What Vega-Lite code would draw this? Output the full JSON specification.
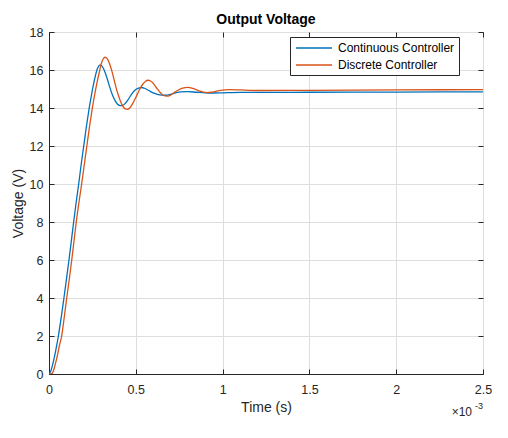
{
  "$schema": "https://vega.github.io/schema/vega-lite/v6.json",
  "autosize": "none",
  "width": 434,
  "height": 342,
  "padding": {"left": 49, "top": 32, "right": 25, "bottom": 64},
  "background": "white",
  "title": {
    "text": "Output Voltage",
    "font": "Liberation Sans",
    "fontSize": 14,
    "fontWeight": "bold",
    "color": "#000000",
    "offset": -1
  },
  "config": {
    "view": {"stroke": "#262626", "strokeWidth": 1},
    "axis": {
      "labelFont": "Liberation Sans",
      "labelFontSize": 12.5,
      "labelColor": "#262626",
      "titleFont": "Liberation Sans",
      "titleFontSize": 14,
      "titleFontWeight": "normal",
      "titleColor": "#262626",
      "domainColor": "#262626",
      "tickColor": "#262626",
      "gridColor": "#dedede",
      "tickSize": -5
    },
    "legend": {
      "orient": "none",
      "legendX": 241,
      "legendY": 5,
      "padding": 4,
      "strokeColor": "#262626",
      "fillColor": "white",
      "labelFont": "Liberation Sans",
      "labelFontSize": 12,
      "labelColor": "#000000",
      "symbolType": "M-3,0H3",
      "symbolSize": 144,
      "symbolStrokeWidth": 1.5,
      "symbolOffset": 13,
      "rowPadding": 4,
      "labelOffset": 17,
      "cornerRadius": 0
    }
  },
  "data": {
    "values": [
      {"t": 0, "v": 0, "s": "Continuous Controller"},
      {"t": 0.01, "v": 0.15, "s": "Continuous Controller"},
      {"t": 0.02, "v": 0.45, "s": "Continuous Controller"},
      {"t": 0.03, "v": 0.85, "s": "Continuous Controller"},
      {"t": 0.04, "v": 1.3, "s": "Continuous Controller"},
      {"t": 0.054, "v": 2.0, "s": "Continuous Controller"},
      {"t": 0.07, "v": 2.95, "s": "Continuous Controller"},
      {"t": 0.086, "v": 4.0, "s": "Continuous Controller"},
      {"t": 0.1, "v": 4.95, "s": "Continuous Controller"},
      {"t": 0.115, "v": 6.0, "s": "Continuous Controller"},
      {"t": 0.128, "v": 6.95, "s": "Continuous Controller"},
      {"t": 0.142, "v": 8.0, "s": "Continuous Controller"},
      {"t": 0.156, "v": 9.0, "s": "Continuous Controller"},
      {"t": 0.171, "v": 10.0, "s": "Continuous Controller"},
      {"t": 0.185, "v": 11.0, "s": "Continuous Controller"},
      {"t": 0.2, "v": 12.0, "s": "Continuous Controller"},
      {"t": 0.215, "v": 13.0, "s": "Continuous Controller"},
      {"t": 0.23, "v": 13.9, "s": "Continuous Controller"},
      {"t": 0.245, "v": 14.7, "s": "Continuous Controller"},
      {"t": 0.26, "v": 15.4, "s": "Continuous Controller"},
      {"t": 0.27, "v": 15.8, "s": "Continuous Controller"},
      {"t": 0.28, "v": 16.1, "s": "Continuous Controller"},
      {"t": 0.294, "v": 16.27, "s": "Continuous Controller"},
      {"t": 0.305, "v": 16.2, "s": "Continuous Controller"},
      {"t": 0.32, "v": 15.95, "s": "Continuous Controller"},
      {"t": 0.335, "v": 15.55, "s": "Continuous Controller"},
      {"t": 0.35, "v": 15.1, "s": "Continuous Controller"},
      {"t": 0.365, "v": 14.7, "s": "Continuous Controller"},
      {"t": 0.38, "v": 14.4, "s": "Continuous Controller"},
      {"t": 0.395, "v": 14.2, "s": "Continuous Controller"},
      {"t": 0.41, "v": 14.13, "s": "Continuous Controller"},
      {"t": 0.425, "v": 14.14, "s": "Continuous Controller"},
      {"t": 0.44, "v": 14.25, "s": "Continuous Controller"},
      {"t": 0.46, "v": 14.5, "s": "Continuous Controller"},
      {"t": 0.48, "v": 14.78, "s": "Continuous Controller"},
      {"t": 0.5, "v": 14.97, "s": "Continuous Controller"},
      {"t": 0.52, "v": 15.06, "s": "Continuous Controller"},
      {"t": 0.535, "v": 15.08, "s": "Continuous Controller"},
      {"t": 0.55, "v": 15.04, "s": "Continuous Controller"},
      {"t": 0.575, "v": 14.92, "s": "Continuous Controller"},
      {"t": 0.6, "v": 14.8, "s": "Continuous Controller"},
      {"t": 0.625, "v": 14.72, "s": "Continuous Controller"},
      {"t": 0.65, "v": 14.68, "s": "Continuous Controller"},
      {"t": 0.67, "v": 14.67, "s": "Continuous Controller"},
      {"t": 0.7, "v": 14.72, "s": "Continuous Controller"},
      {"t": 0.73, "v": 14.8, "s": "Continuous Controller"},
      {"t": 0.76, "v": 14.85, "s": "Continuous Controller"},
      {"t": 0.8, "v": 14.86, "s": "Continuous Controller"},
      {"t": 0.85, "v": 14.83, "s": "Continuous Controller"},
      {"t": 0.9, "v": 14.8, "s": "Continuous Controller"},
      {"t": 0.95, "v": 14.79, "s": "Continuous Controller"},
      {"t": 1.0, "v": 14.8, "s": "Continuous Controller"},
      {"t": 1.1, "v": 14.82, "s": "Continuous Controller"},
      {"t": 1.2, "v": 14.82, "s": "Continuous Controller"},
      {"t": 1.5, "v": 14.83, "s": "Continuous Controller"},
      {"t": 2.0, "v": 14.84, "s": "Continuous Controller"},
      {"t": 2.5, "v": 14.85, "s": "Continuous Controller"},
      {"t": 0, "v": 0, "s": "Discrete Controller"},
      {"t": 0.01, "v": 0.0, "s": "Discrete Controller"},
      {"t": 0.02, "v": 0.05, "s": "Discrete Controller"},
      {"t": 0.03, "v": 0.3, "s": "Discrete Controller"},
      {"t": 0.04, "v": 0.65, "s": "Discrete Controller"},
      {"t": 0.05, "v": 1.05, "s": "Discrete Controller"},
      {"t": 0.06, "v": 1.5, "s": "Discrete Controller"},
      {"t": 0.073, "v": 2.0, "s": "Discrete Controller"},
      {"t": 0.088, "v": 3.0, "s": "Discrete Controller"},
      {"t": 0.102, "v": 4.0, "s": "Discrete Controller"},
      {"t": 0.117, "v": 5.0, "s": "Discrete Controller"},
      {"t": 0.131, "v": 6.0, "s": "Discrete Controller"},
      {"t": 0.144, "v": 7.0, "s": "Discrete Controller"},
      {"t": 0.157, "v": 8.0, "s": "Discrete Controller"},
      {"t": 0.172, "v": 9.0, "s": "Discrete Controller"},
      {"t": 0.188, "v": 10.0, "s": "Discrete Controller"},
      {"t": 0.203, "v": 11.0, "s": "Discrete Controller"},
      {"t": 0.218, "v": 12.0, "s": "Discrete Controller"},
      {"t": 0.233, "v": 13.0, "s": "Discrete Controller"},
      {"t": 0.248, "v": 13.9, "s": "Discrete Controller"},
      {"t": 0.263, "v": 14.7, "s": "Discrete Controller"},
      {"t": 0.278, "v": 15.4, "s": "Discrete Controller"},
      {"t": 0.29, "v": 15.9, "s": "Discrete Controller"},
      {"t": 0.3, "v": 16.3, "s": "Discrete Controller"},
      {"t": 0.312, "v": 16.58, "s": "Discrete Controller"},
      {"t": 0.323, "v": 16.67, "s": "Discrete Controller"},
      {"t": 0.335, "v": 16.6, "s": "Discrete Controller"},
      {"t": 0.35, "v": 16.3, "s": "Discrete Controller"},
      {"t": 0.365, "v": 15.85, "s": "Discrete Controller"},
      {"t": 0.38, "v": 15.3, "s": "Discrete Controller"},
      {"t": 0.395, "v": 14.8, "s": "Discrete Controller"},
      {"t": 0.41, "v": 14.4, "s": "Discrete Controller"},
      {"t": 0.425, "v": 14.1, "s": "Discrete Controller"},
      {"t": 0.44, "v": 13.95, "s": "Discrete Controller"},
      {"t": 0.452, "v": 13.93, "s": "Discrete Controller"},
      {"t": 0.465, "v": 14.0, "s": "Discrete Controller"},
      {"t": 0.48, "v": 14.2, "s": "Discrete Controller"},
      {"t": 0.5, "v": 14.55, "s": "Discrete Controller"},
      {"t": 0.52, "v": 14.95, "s": "Discrete Controller"},
      {"t": 0.54, "v": 15.25, "s": "Discrete Controller"},
      {"t": 0.555, "v": 15.4, "s": "Discrete Controller"},
      {"t": 0.571, "v": 15.46, "s": "Discrete Controller"},
      {"t": 0.585, "v": 15.42, "s": "Discrete Controller"},
      {"t": 0.6, "v": 15.3, "s": "Discrete Controller"},
      {"t": 0.62, "v": 15.05, "s": "Discrete Controller"},
      {"t": 0.64, "v": 14.82, "s": "Discrete Controller"},
      {"t": 0.66, "v": 14.66, "s": "Discrete Controller"},
      {"t": 0.678, "v": 14.62, "s": "Discrete Controller"},
      {"t": 0.695, "v": 14.65, "s": "Discrete Controller"},
      {"t": 0.72, "v": 14.8, "s": "Discrete Controller"},
      {"t": 0.745, "v": 14.95, "s": "Discrete Controller"},
      {"t": 0.77, "v": 15.05, "s": "Discrete Controller"},
      {"t": 0.8, "v": 15.09, "s": "Discrete Controller"},
      {"t": 0.83, "v": 15.03, "s": "Discrete Controller"},
      {"t": 0.86, "v": 14.92, "s": "Discrete Controller"},
      {"t": 0.89, "v": 14.83, "s": "Discrete Controller"},
      {"t": 0.91, "v": 14.81, "s": "Discrete Controller"},
      {"t": 0.94, "v": 14.84, "s": "Discrete Controller"},
      {"t": 0.98, "v": 14.92, "s": "Discrete Controller"},
      {"t": 1.04, "v": 14.97, "s": "Discrete Controller"},
      {"t": 1.1, "v": 14.95, "s": "Discrete Controller"},
      {"t": 1.2, "v": 14.92, "s": "Discrete Controller"},
      {"t": 1.5, "v": 14.93, "s": "Discrete Controller"},
      {"t": 2.0, "v": 14.95, "s": "Discrete Controller"},
      {"t": 2.5, "v": 14.97, "s": "Discrete Controller"}
    ]
  },
  "layer": [
    {
      "mark": {"type": "line", "strokeWidth": 1.3, "interpolate": "monotone", "clip": true},
      "encoding": {
        "x": {
          "field": "t",
          "type": "quantitative",
          "scale": {"domain": [0, 2.5], "nice": false},
          "axis": {
            "orient": "bottom",
            "title": "Time (s)",
            "values": [0, 0.5, 1, 1.5, 2, 2.5],
            "format": "~g",
            "labelPadding": 14,
            "titlePadding": 5,
            "grid": true,
            "labelFlush": false
          }
        },
        "y": {
          "field": "v",
          "type": "quantitative",
          "scale": {"domain": [0, 18], "nice": false, "zero": false},
          "axis": {
            "orient": "left",
            "title": "Voltage (V)",
            "values": [0, 2, 4, 6, 8, 10, 12, 14, 16, 18],
            "format": "~g",
            "labelPadding": 11,
            "titlePadding": 4,
            "grid": true,
            "labelFlush": false
          }
        },
        "color": {
          "field": "s",
          "type": "nominal",
          "title": null,
          "scale": {
            "domain": ["Continuous Controller", "Discrete Controller"],
            "range": ["#0072BD", "#D95319"]
          }
        }
      }
    },
    {
      "data": {"values": [{"label": "×10"}]},
      "mark": {"type": "text", "align": "right", "baseline": "alphabetic", "dx": -11, "dy": 42, "font": "Liberation Sans", "fontSize": 12, "color": "#262626"},
      "encoding": {
        "text": {"field": "label"},
        "x": {
          "datum": 2.5,
          "type": "quantitative",
          "axis": {"orient": "top", "labels": false, "title": null, "grid": false, "domain": false, "values": [0, 0.5, 1, 1.5, 2, 2.5]}
        },
        "y": {
          "datum": 0,
          "type": "quantitative",
          "axis": {"orient": "right", "labels": false, "title": null, "grid": false, "domain": false, "values": [0, 2, 4, 6, 8, 10, 12, 14, 16, 18]}
        }
      }
    },
    {
      "data": {"values": [{"label": "-3"}]},
      "mark": {"type": "text", "align": "right", "baseline": "alphabetic", "dx": 0, "dy": 35, "font": "Liberation Sans", "fontSize": 9, "color": "#262626"},
      "encoding": {
        "text": {"field": "label"},
        "x": {"datum": 2.5, "type": "quantitative", "axis": null},
        "y": {"datum": 0, "type": "quantitative", "axis": null}
      }
    }
  ],
  "resolve": {"axis": {"x": "independent", "y": "independent"}}
}
